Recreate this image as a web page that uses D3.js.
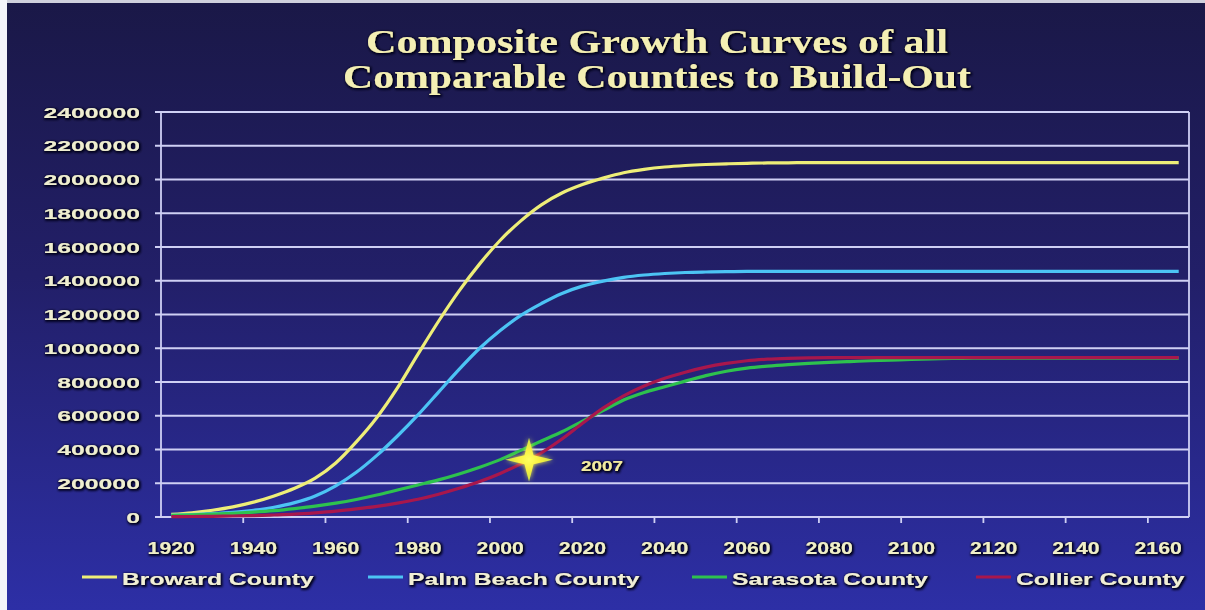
<!DOCTYPE html>
<html>
<head>
<meta charset="utf-8">
<script src="https://cdn.jsdelivr.net/npm/d3@7/dist/d3.min.js"></script>
<style>
  html, body { margin: 0; padding: 0; background: #ffffff; }
  svg { display: block; }
</style>
</head>
<body>
<svg id="chart" width="1205" height="610"></svg>
<script>
// Five-year categories, 1920 – 2165
const years = [1920, 1925, 1930, 1935, 1940, 1945, 1950, 1955, 1960, 1965,
  1970, 1975, 1980, 1985, 1990, 1995, 2000, 2005, 2010, 2015,
  2020, 2025, 2030, 2035, 2040, 2045, 2050, 2055, 2060, 2065,
  2070, 2075, 2080, 2085, 2090, 2095, 2100, 2105, 2110, 2115,
  2120, 2125, 2130, 2135, 2140, 2145, 2150, 2155, 2160, 2165];

const broward = [15000, 25000, 40000, 60000, 88000, 125000, 170000, 230000, 320000, 445000,
  590000, 765000, 965000, 1160000, 1340000, 1500000, 1640000, 1755000, 1850000, 1920000,
  1970000, 2008000, 2040000, 2060000, 2074000, 2083000, 2089000, 2093000, 2096000, 2098000,
  2099000, 2100000, 2100000, 2100000, 2100000, 2100000, 2100000, 2100000, 2100000, 2100000,
  2100000, 2100000, 2100000, 2100000, 2100000, 2100000, 2100000, 2100000, 2100000, 2100000];

const palmBeach = [10000, 14000, 20000, 28000, 40000, 58000, 85000, 125000, 185000, 265000,
  365000, 480000, 605000, 740000, 875000, 1000000, 1105000, 1195000, 1265000, 1325000,
  1368000, 1398000, 1420000, 1434000, 1443000, 1449000, 1452000, 1454000, 1455000, 1455000,
  1455000, 1455000, 1455000, 1455000, 1455000, 1455000, 1455000, 1455000, 1455000, 1455000,
  1455000, 1455000, 1455000, 1455000, 1455000, 1455000, 1455000, 1455000, 1455000, 1455000];

const sarasota = [10000, 13000, 17000, 22000, 29000, 38000, 50000, 64000, 82000, 104000,
  130000, 160000, 190000, 220000, 255000, 295000, 340000, 395000, 450000, 505000,
  568000, 630000, 693000, 738000, 772000, 805000, 838000, 864000, 882000, 894000,
  903000, 910000, 916000, 921000, 926000, 930000, 934000, 937000, 940000, 942000,
  942000, 942000, 942000, 942000, 942000, 942000, 942000, 942000, 942000, 942000];

const collier = [2000, 3000, 4000, 6000, 8000, 12000, 17000, 25000, 35000, 48000,
  63000, 82000, 105000, 135000, 170000, 210000, 258000, 315000, 380000, 462000,
  555000, 645000, 718000, 776000, 822000, 858000, 888000, 910000, 926000, 935000,
  940000, 943000, 944000, 944000, 944000, 944000, 944000, 944000, 944000, 944000,
  944000, 944000, 944000, 944000, 944000, 944000, 944000, 944000, 944000, 944000];

const seriesNames = ["Broward County", "Palm Beach County", "Sarasota County", "Collier County"];
const seriesColors = ["#eeee78", "#4cc4f4", "#2ec24e", "#a8174c"];
const seriesValues = [broward, palmBeach, sarasota, collier];

const xLabels = [1920, 1940, 1960, 1980, 2000, 2020, 2040, 2060, 2080, 2100, 2120, 2140, 2160];
const yTicks = [0, 200000, 400000, 600000, 800000, 1000000, 1200000, 1400000,
  1600000, 1800000, 2000000, 2200000, 2400000];

// 2007 marker
const markerYear = 2007;
const markerValue = 340000;
const markerLabel = "2007";

const titleLines = ["Composite Growth Curves of all", "Comparable Counties to Build-Out"];

// ---- layout ----
const W = 1205, H = 610;
const plot = { left: 161, right: 1189, top: 112, bottom: 517 };
const step = 5;  // years per category band

const svg = d3.select("#chart");
const defs = svg.append("defs");

const bg = defs.append("linearGradient").attr("id", "bg")
  .attr("x1", 0).attr("y1", 0).attr("x2", 0).attr("y2", 1);
bg.append("stop").attr("offset", "0%").attr("stop-color", "#1a1847");
bg.append("stop").attr("offset", "45%").attr("stop-color", "#221f68");
bg.append("stop").attr("offset", "100%").attr("stop-color", "#2d2fa6");

// dark halo behind light text
const halo = defs.append("filter").attr("id", "halo")
  .attr("x", "-10%").attr("y", "-30%").attr("width", "120%").attr("height", "160%");
halo.append("feMorphology").attr("in", "SourceAlpha").attr("operator", "dilate")
  .attr("radius", 0.8).attr("result", "fat");
halo.append("feGaussianBlur").attr("in", "fat").attr("stdDeviation", 0.9).attr("result", "blur");
halo.append("feOffset").attr("in", "blur").attr("dx", 0.8).attr("dy", 0.8).attr("result", "off");
halo.append("feFlood").attr("flood-color", "#05051a").attr("flood-opacity", 0.95);
halo.append("feComposite").attr("in2", "off").attr("operator", "in").attr("result", "shadow");
const hm = halo.append("feMerge");
hm.append("feMergeNode").attr("in", "shadow");
hm.append("feMergeNode").attr("in", "SourceGraphic");

// soft glow for the star
const glow = defs.append("filter").attr("id", "glow")
  .attr("x", "-60%").attr("y", "-60%").attr("width", "220%").attr("height", "220%");
glow.append("feGaussianBlur").attr("in", "SourceGraphic").attr("stdDeviation", 2.5).attr("result", "b");
const gm = glow.append("feMerge");
gm.append("feMergeNode").attr("in", "b");
gm.append("feMergeNode").attr("in", "SourceGraphic");

const starGrad = defs.append("radialGradient").attr("id", "starFill");
starGrad.append("stop").attr("offset", "0%").attr("stop-color", "#ffff60");
starGrad.append("stop").attr("offset", "45%").attr("stop-color", "#f8f040");
starGrad.append("stop").attr("offset", "100%").attr("stop-color", "#c8e048");

// background
svg.append("rect").attr("width", W).attr("height", H).attr("fill", "url(#bg)");
svg.append("rect").attr("x", 0).attr("y", 0).attr("width", W).attr("height", 3).attr("fill", "#cfd0dc");
svg.append("rect").attr("x", 0).attr("y", 0).attr("width", 7).attr("height", H).attr("fill", "#f4f4fa");

// scales: each category occupies a 5-year band, points sit at band centres
const x = d3.scaleLinear()
  .domain([years[0] - step / 2, years[years.length - 1] + step / 2])
  .range([plot.left, plot.right]);
const y = d3.scaleLinear().domain([0, 2400000]).range([plot.bottom, plot.top]);

// title
const title = svg.append("g").attr("filter", "url(#halo)");
const titleWidths = [582, 628];
titleLines.forEach((t, i) => {
  title.append("text")
    .attr("x", 657).attr("y", 53 + i * 35)
    .attr("text-anchor", "middle")
    .attr("font-family", "'Liberation Serif', 'DejaVu Serif', serif")
    .attr("font-weight", "bold")
    .attr("font-size", 34)
    .attr("fill", "#f4efb4")
    .attr("textLength", titleWidths[i])
    .attr("lengthAdjust", "spacingAndGlyphs")
    .text(t);
});

// horizontal gridlines + frame
const gridColor = "#cfd0f4";
const grid = svg.append("g");
grid.selectAll("line.h").data(yTicks).join("line")
  .attr("x1", plot.left - 6).attr("x2", plot.right)
  .attr("y1", d => y(d)).attr("y2", d => y(d))
  .attr("stroke", gridColor).attr("stroke-width", 1.8);
grid.append("line")
  .attr("x1", plot.left).attr("x2", plot.left)
  .attr("y1", plot.top).attr("y2", plot.bottom)
  .attr("stroke", gridColor).attr("stroke-width", 1.8);
grid.append("line")
  .attr("x1", plot.right).attr("x2", plot.right)
  .attr("y1", plot.top).attr("y2", plot.bottom)
  .attr("stroke", gridColor).attr("stroke-width", 1.8);

// x tick marks fall on band boundaries every 20 years
const tickEdges = xLabels.map(v => v - step / 2).filter(v => v > years[0]);
grid.selectAll("line.xt").data(tickEdges).join("line")
  .attr("x1", d => x(d)).attr("x2", d => x(d))
  .attr("y1", plot.bottom).attr("y2", plot.bottom + 6)
  .attr("stroke", gridColor).attr("stroke-width", 1.8);

// stretch helper for the wide, bold labels
function stretch(sel, factor) {
  sel.each(function () {
    const w = this.getComputedTextLength();
    d3.select(this).attr("textLength", w * factor).attr("lengthAdjust", "spacingAndGlyphs");
  });
}

const labelFont = "'Liberation Sans', Arial, sans-serif";

// y axis labels: right edge at x = 140, fixed advance per digit
const yDigit = 13.8;
svg.append("g").attr("filter", "url(#halo)")
  .selectAll("text").data(yTicks).join("text")
  .attr("x", d => 140 - String(d).length * yDigit).attr("y", d => y(d) + 5.5)
  .attr("text-anchor", "start")
  .attr("font-family", labelFont).attr("font-weight", "bold").attr("font-size", 15.5)
  .attr("fill", "#efeed0")
  .attr("textLength", d => String(d).length * yDigit)
  .attr("lengthAdjust", "spacingAndGlyphs")
  .text(d => d3.format("d")(d));

// x axis labels
const xl = svg.append("g").attr("filter", "url(#halo)")
  .selectAll("text").data(xLabels).join("text")
  .attr("x", d => x(d)).attr("y", 554)
  .attr("text-anchor", "middle")
  .attr("font-family", labelFont).attr("font-weight", "bold").attr("font-size", 17)
  .attr("fill", "#f0efc8")
  .text(d => d);
stretch(xl, 1.25);

// series lines
const line = d3.line()
  .x((d, i) => x(years[i]))
  .y(d => y(d))
  .curve(d3.curveMonotoneX);

const lines = svg.append("g");
seriesValues.forEach((vals, i) => {
  lines.append("path")
    .datum(vals)
    .attr("d", line)
    .attr("fill", "none")
    .attr("stroke", seriesColors[i])
    .attr("stroke-width", 3.2)
    .attr("stroke-linejoin", "round");
});

// 2007 star marker
const sx = x(markerYear), sy = y(markerValue);
const armV = 22, armH = 24, inner = 4.5;
const starPath = d3.path();
starPath.moveTo(sx, sy - armV);
starPath.lineTo(sx + inner, sy - inner);
starPath.lineTo(sx + armH, sy);
starPath.lineTo(sx + inner, sy + inner);
starPath.lineTo(sx, sy + armV);
starPath.lineTo(sx - inner, sy + inner);
starPath.lineTo(sx - armH, sy);
starPath.lineTo(sx - inner, sy - inner);
starPath.closePath();
svg.append("path")
  .attr("d", starPath.toString())
  .attr("fill", "url(#starFill)")
  .attr("filter", "url(#glow)");

const ml = svg.append("text")
  .attr("x", sx + 52).attr("y", sy + 11)
  .attr("font-family", labelFont).attr("font-weight", "bold").attr("font-size", 14.5)
  .attr("fill", "#f2eaa0")
  .attr("filter", "url(#halo)")
  .text(markerLabel);
stretch(ml, 1.3);

// legend
const legendX = [82, 368, 692, 976];
const legendStretch = 1.45;
const legend = svg.append("g");
seriesNames.forEach((name, i) => {
  const g = legend.append("g").attr("transform", `translate(${legendX[i]},577)`);
  g.append("line")
    .attr("x1", 0).attr("x2", 35).attr("y1", 0).attr("y2", 0)
    .attr("stroke", seriesColors[i]).attr("stroke-width", 3.2);
  const t = g.append("text")
    .attr("x", 40).attr("y", 8)
    .attr("font-family", labelFont).attr("font-weight", "bold").attr("font-size", 17)
    .attr("fill", "#f1efd6")
    .attr("filter", "url(#halo)")
    .text(name);
  stretch(t, legendStretch);
});
</script>
</body>
</html>
